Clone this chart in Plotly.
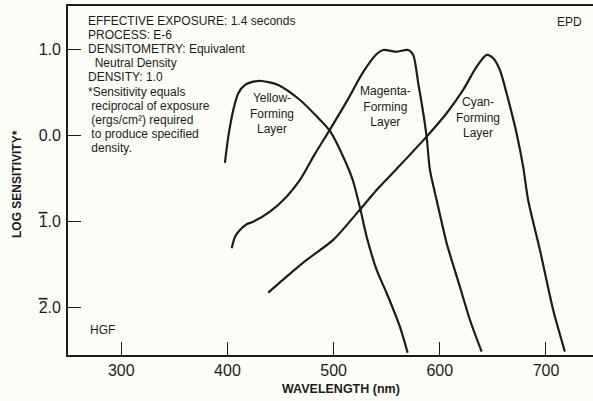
import plotly.graph_objects as go

# Yellow-forming layer (wavelength nm, log sensitivity)
yellow_wl = [397.6, 400.8, 405.5, 410.2, 416.5, 424.3, 432.2, 447.8, 468.3, 484.0, 496.5,
             509.0, 518.0, 525.0, 531.1, 540.5, 549.9, 562.4, 569.7]
yellow_ls = [-0.32, -0.016, 0.294, 0.488, 0.585, 0.623, 0.631, 0.585, 0.41, 0.22, 0.05,
             -0.249, -0.52, -0.85, -1.179, -1.566, -1.834, -2.226, -2.528]

# Magenta-forming layer
magenta_wl = [404.0, 407.1, 411.8, 418.1, 424.3, 440.0, 455.7, 468.3, 482.4, 496.5, 512.2, 527.9,
              540.5, 546.7, 559.3, 570.2, 575.0, 579.7, 584.4, 587.6, 590.7, 597.0, 606.4,
              618.9, 628.4, 639.4]
magenta_ls = [-1.314, -1.179, -1.101, -1.035, -1.005, -0.888, -0.714, -0.520, -0.217, 0.066, 0.391,
              0.736, 0.945, 0.992, 0.972, 0.992, 0.934, 0.605, 0.259, -0.016, -0.403, -0.752,
              -1.252, -1.760, -2.148, -2.516]

# Cyan-forming layer
cyan_wl = [438.4, 455.7, 474.6, 499.6, 523.2, 540.5, 559.3, 587.6, 606.4, 622.0, 634.7,
           644.1, 650.3, 656.6, 662.9, 672.3, 678.5, 683.2, 694.3, 706.8, 717.8]
cyan_ls = [-1.830, -1.644, -1.450, -1.217, -0.888, -0.636, -0.392, -0.016, 0.256, 0.527, 0.798,
           0.934, 0.895, 0.759, 0.488, 0.023, -0.365, -0.752, -1.334, -2.032, -2.516]

x_tickvals = [300, 400, 500, 600, 700]
x_ticktext = ["300", "400", "500", "600", "700"]
y_tickvals = [1.0, 0.0, -1.0, -2.0]
y_ticktext = ["1.0", "0.0",
              "<span style='text-decoration:overline'>1</span>.0",
              "<span style='text-decoration:overline'>2</span>.0"]

info_lines = [
    "EFFECTIVE EXPOSURE: 1.4 seconds",
    "PROCESS: E-6",
    "DENSITOMETRY: Equivalent",
    "  Neutral Density",
    "DENSITY: 1.0",
    "*Sensitivity equals",
    " reciprocal of exposure",
    " (ergs/cm\u00b2) required",
    " to produce specified",
    " density.",
]

INK = "#1c1c1c"
BG = "#fdfdf7"
FONT = "Liberation Sans, Arial, sans-serif"

W, H = 593, 401
ML, MR, MT, MB = 68, 0, 6, 46
PW, PH = W - ML - MR, H - MT - MB

fig = go.Figure()
for wl, ls, name in [(yellow_wl, yellow_ls, "Yellow"), (magenta_wl, magenta_ls, "Magenta"),
                     (cyan_wl, cyan_ls, "Cyan")]:
    fig.add_trace(go.Scatter(x=wl, y=ls, mode="lines", name=name,
                             line=dict(color=INK, width=2.2, shape="spline", smoothing=0.7),
                             showlegend=False, hoverinfo="skip"))

fig.update_layout(
    width=W, height=H,
    margin=dict(l=ML, r=MR, t=MT, b=MB),
    paper_bgcolor=BG, plot_bgcolor=BG,
    font=dict(family=FONT, color=INK),
    xaxis=dict(range=[249.8, 744.3], tickvals=x_tickvals, ticktext=x_ticktext,
               ticks="inside", ticklen=13, tickwidth=1.3, tickcolor=INK,
               showline=True, linecolor=INK, linewidth=1.8, mirror=True,
               showgrid=False, zeroline=False, tickfont=dict(size=16, color=INK)),
    yaxis=dict(range=[-2.555, 1.503], tickvals=y_tickvals, ticktext=y_ticktext,
               ticks="inside", ticklen=13, tickwidth=1.3, tickcolor=INK,
               showline=True, linecolor=INK, linewidth=1.8, ticklabelstandoff=2,
               showgrid=False, zeroline=False, tickfont=dict(size=16, color=INK)),
)


def px_ann(text, x, y, size=12, xanchor="center", bold=False, angle=0):
    if bold:
        text = "<b>" + text + "</b>"
    return dict(text=text, x=(x - ML) / PW, y=(H - MB - y) / PH, xref="paper", yref="paper",
                showarrow=False, xanchor=xanchor, yanchor="middle", textangle=angle,
                font=dict(size=size, color=INK))


anns = []
line_y = [21, 35, 49, 63, 77, 92, 106, 120, 134, 148]
for txt, yp in zip(info_lines, line_y):
    anns.append(px_ann(txt.replace(" ", "\u00a0"), 86, yp, 12, xanchor="left"))

anns.append(px_ann("EPD", 569, 22, 12))
anns.append(px_ann("HGF", 102, 330, 12))
anns.append(px_ann("Yellow-<br>Forming<br>Layer", 272, 113, 12))
anns.append(px_ann("Magenta-<br>Forming<br>Layer", 385, 107, 12))
anns.append(px_ann("Cyan-<br>Forming<br>Layer", 478, 117, 12))
anns.append(px_ann("WAVELENGTH (nm)", 341, 389, 12.5, bold=True))
anns.append(px_ann("LOG SENSITIVITY*", 17, 184, 12, bold=True, angle=-90))

fig.update_layout(annotations=anns)

fig.write_html("out.html")
